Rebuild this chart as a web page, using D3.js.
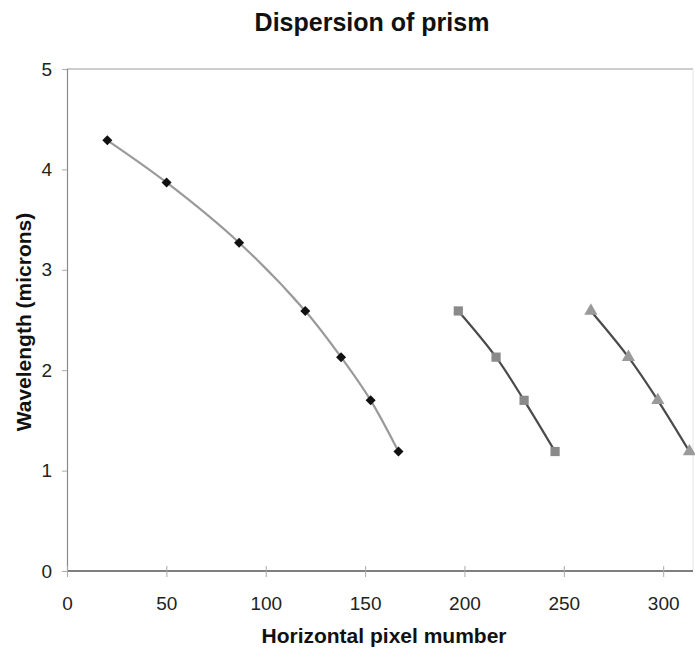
<!DOCTYPE html>
<html><head><meta charset="utf-8">
<script src="https://cdn.jsdelivr.net/npm/d3@7"></script>
<style>
body{margin:0;background:#fff;}
text{font-family:"Liberation Sans",Arial,sans-serif;}
</style></head>
<body><svg id="c" width="695" height="653"></svg>
<script>
const title = "Dispersion of prism";
const xLabel = "Horizontal pixel mumber";
const yLabel = "Wavelength (microns)";
const xTicks = [0, 50, 100, 150, 200, 250, 300];
const yTicks = [0, 1, 2, 3, 4, 5];
const s1x = [20.3, 50.1, 86.6, 119.9, 137.9, 152.8, 166.8];
const s1y = [4.29, 3.87, 3.27, 2.59, 2.13, 1.70, 1.19];
const s2x = [196.9, 215.9, 230.0, 245.6];
const s2y = [2.59, 2.13, 1.70, 1.19];
const s3x = [263.6, 282.5, 297.3, 313.2];
const s3y = [2.59, 2.13, 1.70, 1.19];

const svg = d3.select("#c");
const L = 67, R = 693, T = 69, B = 571;
const x = d3.scaleLinear().domain([0, 315]).range([L, R]);
const y = d3.scaleLinear().domain([0, 5]).range([B, T]);

// plot border
svg.append("line").attr("x1", L).attr("x2", R).attr("y1", T).attr("y2", T).attr("stroke", "#bdbdbd").attr("stroke-width", 1.5);
svg.append("line").attr("x1", R).attr("x2", R).attr("y1", T).attr("y2", B).attr("stroke", "#e6e6e6").attr("stroke-width", 1);

// axes
const yAxis = svg.append("g").attr("transform", `translate(${L},0)`)
  .call(d3.axisLeft(y).tickValues(yTicks).tickSize(5).tickPadding(10).tickFormat(d3.format("d")));
yAxis.select(".domain").attr("stroke", "#8a8a8a").attr("stroke-width", 1.2);
yAxis.selectAll(".tick line").attr("stroke", "#aaa");
yAxis.selectAll("text").attr("font-size", 19).attr("fill", "#222");

const xAxis = svg.append("g").attr("transform", `translate(0,${B})`)
  .call(d3.axisBottom(x).tickValues(xTicks).tickSize(6).tickPadding(20).tickFormat(d3.format("d")));
xAxis.select(".domain").attr("stroke", "#555").attr("stroke-width", 1.3).attr("d", `M${L},0H${R}`);
xAxis.selectAll(".tick line").attr("stroke", "#aaa").attr("y1", -5);
xAxis.selectAll("text").attr("font-size", 19).attr("fill", "#222");

// lines
const line = d3.line().x(d => x(d[0])).y(d => y(d[1])).curve(d3.curveCatmullRom.alpha(0.5));
const series = [
  {xs: s1x, ys: s1y, line: "#9a9a9a", sym: d3.symbolDiamond2, fill: "#111", size: 64},
  {xs: s2x, ys: s2y, line: "#4a4a4a", sym: d3.symbolSquare, fill: "#8a8a8a", size: 85},
  {xs: s3x, ys: s3y, line: "#4a4a4a", sym: d3.symbolTriangle, fill: "#9a9a9a", size: 75}
];
series.forEach(s => {
  const pts = s.xs.map((v, i) => [v, s.ys[i]]);
  svg.append("path").datum(pts).attr("d", line).attr("fill", "none")
    .attr("stroke", s.line).attr("stroke-width", 2.2);
  svg.selectAll(null).data(pts).enter().append("path")
    .attr("d", d3.symbol().type(s.sym).size(s.size))
    .attr("transform", d => `translate(${x(d[0])},${y(d[1])})`)
    .attr("fill", s.fill);
});

// titles
svg.append("text").attr("x", 372).attr("y", 31).attr("text-anchor", "middle")
  .attr("font-size", 25).attr("font-weight", "bold").attr("fill", "#111").text(title);
svg.append("text").attr("x", 384).attr("y", 643).attr("text-anchor", "middle")
  .attr("font-size", 21).attr("font-weight", "bold").attr("fill", "#111").text(xLabel);
svg.append("text").attr("transform", `translate(31,${(T + B) / 2 + 2}) rotate(-90)`).attr("text-anchor", "middle")
  .attr("font-size", 21).attr("font-weight", "bold").attr("fill", "#111").text(yLabel);
</script></body></html>
